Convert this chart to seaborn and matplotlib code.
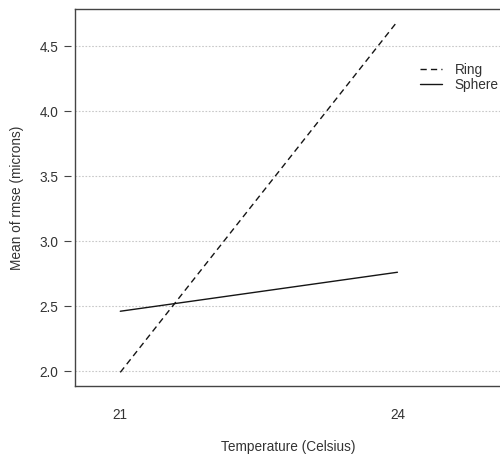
import matplotlib
matplotlib.use("Agg")
import matplotlib.pyplot as plt
import seaborn as sns
import pandas as pd

# Mean rmse per temperature for each particle shape
temperature = [21, 24]
ring_rmse = [1.99, 4.69]
sphere_rmse = [2.46, 2.76]
shapes = ["Ring", "Sphere"]
y_ticks = [2.0, 2.5, 3.0, 3.5, 4.0, 4.5]
x_ticks = [21, 24]

df = pd.DataFrame({
    "Temperature": temperature * 2,
    "rmse": ring_rmse + sphere_rmse,
    "shape": [shapes[0]] * 2 + [shapes[1]] * 2,
})

sns.set_style("white")
plt.rcParams["font.family"] = ["Liberation Sans", "DejaVu Sans"]
FS = 9.8
plt.rcParams["font.size"] = FS

W, H = 500, 457
fig = plt.figure(figsize=(W / 100, H / 100), dpi=100)
left, right, top, bottom = 75, 500, 9, 386
ax = fig.add_axes([left / W, (H - bottom) / H, (right - left) / W, (bottom - top) / H])

sns.lineplot(data=df, x="Temperature", y="rmse", style="shape",
             dashes={"Ring": (4.5, 3), "Sphere": ""}, color="#151515",
             linewidth=1.0, ax=ax, legend=True)

ax.set_xlim(20.51, 25.11)
ax.set_ylim(1.885, 4.785)

# horizontal dotted guides
for yv in y_ticks:
    ax.axhline(yv, color="#c8c8c8", linestyle=(0, (1.5, 1.5)), linewidth=0.8, zorder=0)

for s in ["top", "left", "bottom"]:
    ax.spines[s].set_color("#444444")
    ax.spines[s].set_linewidth(1.0)
ax.spines["right"].set_visible(False)

ax.set_xticks(x_ticks)
ax.set_xticklabels([str(v) for v in x_ticks])
ax.tick_params(axis="x", length=0, pad=16, colors="#333333", labelsize=FS)

# y ticks drawn on a detached axis slightly left of the frame
ax.set_yticks(y_ticks)
ax.tick_params(axis="y", left=False, labelleft=False)
sec = ax.secondary_yaxis(-4 / (right - left))
sec.set_yticks(y_ticks)
sec.set_yticklabels([f"{v:.1f}" for v in y_ticks])
sec.spines["left"].set_visible(False)
sec.tick_params(axis="y", length=5, width=0.8, color="#444444", pad=4,
                labelcolor="#333333", labelsize=FS, direction="out")

ax.set_xlabel("Temperature (Celsius)", color="#333333", fontsize=FS)
ax.set_ylabel("", color="#333333")
ax.xaxis.set_label_coords((288 - left) / (right - left), -(447 - bottom) / (bottom - top))
ax.xaxis.label.set_va("center")
fig.text(17 / W, 1 - ((top + bottom) / 2) / H, "Mean of rmse (microns)",
         rotation=90, ha="center", va="center", color="#333333", fontsize=FS)

handles, labels = ax.get_legend_handles_labels()
pairs = [(h, l) for h, l in zip(handles, labels) if l in shapes]
ax.legend([p[0] for p in pairs], [p[1] for p in pairs],
          loc="upper left", bbox_to_anchor=(420 / W, 1 - 63 / H),
          bbox_transform=fig.transFigure, frameon=False, fontsize=FS,
          handlelength=1.65, handletextpad=0.9, labelspacing=0.05,
          borderpad=0, borderaxespad=0, labelcolor="#333333")

fig.savefig("out.png", dpi=100, facecolor="white")
